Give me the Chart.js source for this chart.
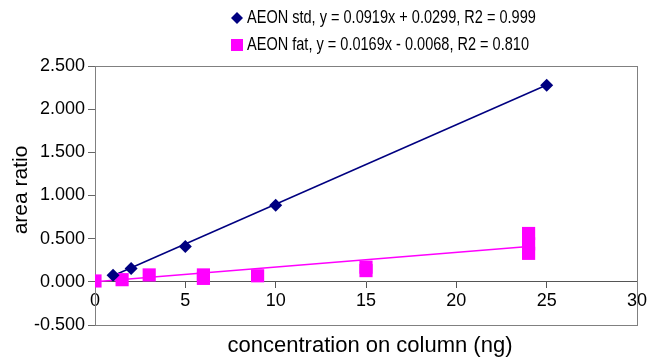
<!DOCTYPE html>
<html>
<head>
<meta charset="utf-8">
<script src="https://cdn.jsdelivr.net/npm/chart.js@4"></script>
<style>
  html, body { margin: 0; padding: 0; background: #fff; }
  #wrap { width: 660px; height: 358px; }
</style>
</head>
<body>
<div id="wrap"><canvas id="calib"></canvas></div>
<script>
// values
const stdX = [1, 2, 5, 10, 25];
const stdY = [0.075, 0.153, 0.41, 0.886, 2.277];
const fatX = [0, 1.5, 3, 6, 6, 9, 15, 15, 24, 24, 24];
const fatY = [0.01, 0.025, 0.08, 0.04, 0.08, 0.07, 0.13, 0.17, 0.33, 0.44, 0.56];
const stdLineX = [1, 25];
const stdLineY = [0.07, 2.28];
const fatLineX = [0, 24];
const fatLineY = [0.0, 0.41];
const xTicks = [0, 5, 10, 15, 20, 25, 30];
const yTicks = [-0.5, 0, 0.5, 1, 1.5, 2, 2.5];
const labels = [
  "AEON std, y = 0.0919x + 0.0299, R2 = 0.999",
  "AEON fat, y = 0.0169x - 0.0068, R2 = 0.810"
];

const navy = "#000080";
const magenta = "#ff00ff";
const font = "'Liberation Sans', Arial, sans-serif";

const pts = (xs, ys) => xs.map((x, i) => ({ x: x, y: ys[i] }));

// legend, axis titles and frame box
const decor = {
  id: "decor",
  beforeDatasetsDraw(chart) {
    const { ctx, chartArea: a } = chart;
    ctx.save();
    ctx.strokeStyle = "#808080";
    ctx.lineWidth = 1;
    ctx.strokeRect(Math.round(a.left) + 0.5, Math.round(a.top) + 0.5,
      Math.round(a.right - a.left), Math.round(a.bottom - a.top));
    ctx.restore();
  },
  afterDraw(chart) {
    const ctx = chart.ctx;
    ctx.save();
    ctx.textBaseline = "middle";

    // legend
    ctx.fillStyle = navy;
    ctx.beginPath();
    ctx.moveTo(237, 12); ctx.lineTo(243, 18); ctx.lineTo(237, 24); ctx.lineTo(231, 18);
    ctx.closePath();
    ctx.fill();
    ctx.fillStyle = magenta;
    ctx.fillRect(231, 39, 12, 12);

    ctx.fillStyle = "#000";
    ctx.font = "19px " + font;
    ctx.textAlign = "left";
    [18, 45].forEach((y, i) => {
      ctx.save();
      ctx.translate(247, y);
      ctx.scale(0.765, 1);
      ctx.fillText(labels[i], 0, 0);
      ctx.restore();
    });

    // axis titles
    ctx.textAlign = "center";
    ctx.font = "22px " + font;
    ctx.fillText("concentration on column (ng)", 370, 346);
    ctx.save();
    ctx.translate(21, 190);
    ctx.rotate(-Math.PI / 2);
    ctx.font = "21px " + font;
    ctx.fillText("area ratio", 0, 0);
    ctx.restore();
    ctx.restore();
  }
};

new Chart(document.getElementById("calib"), {
  type: "scatter",
  data: {
    datasets: [
      {
        label: labels[0],
        data: pts(stdX, stdY),
        pointStyle: "rectRot",
        pointRadius: 6.5,
        backgroundColor: navy,
        borderColor: navy,
        borderWidth: 0
      },
      {
        label: labels[1],
        data: pts(fatX, fatY),
        pointStyle: "rect",
        pointRadius: 9.3,
        backgroundColor: magenta,
        borderColor: magenta,
        borderWidth: 0
      },
      {
        data: pts(stdLineX, stdLineY),
        showLine: true,
        pointRadius: 0,
        borderColor: navy,
        borderWidth: 1.5
      },
      {
        data: pts(fatLineX, fatLineY),
        showLine: true,
        pointRadius: 0,
        borderColor: magenta,
        borderWidth: 1.5
      }
    ]
  },
  options: {
    responsive: true,
    maintainAspectRatio: false,
    animation: false,
    layout: { padding: { left: 0, top: 66, right: 23, bottom: 33 } },
    plugins: {
      legend: { display: false },
      tooltip: { enabled: false }
    },
    scales: {
      x: {
        type: "linear",
        position: { y: 0 },
        min: 0,
        max: 30,
        afterBuildTicks: (s) => { s.ticks = xTicks.map(v => ({ value: v })); },
        ticks: {
          color: "#000",
          font: { family: font, size: 18 },
          padding: 2,
          maxRotation: 0
        },
        grid: { drawOnChartArea: false, tickLength: 6, color: "#555" },
        border: { color: "#555", width: 1 }
      },
      y: {
        min: -0.5,
        max: 2.5,
        afterBuildTicks: (s) => { s.ticks = yTicks.map(v => ({ value: v })); },
        afterFit: (s) => { s.width = 95; },
        ticks: {
          color: "#000",
          font: { family: font, size: 18 },
          padding: 3,
          callback: (v) => v.toFixed(3)
        },
        grid: { drawOnChartArea: false, tickLength: 7, color: "#666" },
        border: { color: "#666", width: 1 }
      }
    }
  },
  plugins: [decor]
});
</script>
</body>
</html>
